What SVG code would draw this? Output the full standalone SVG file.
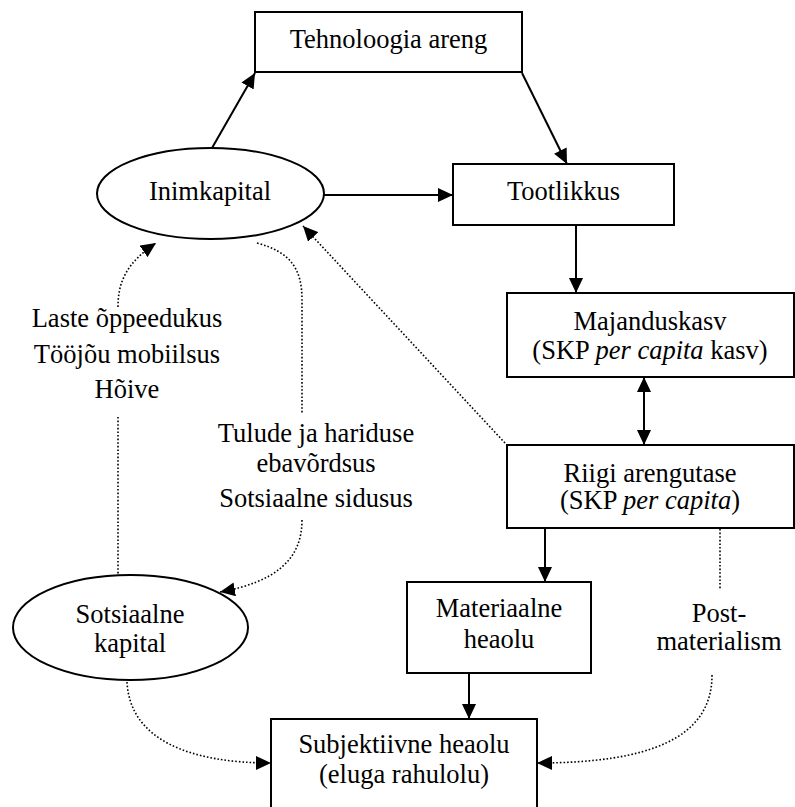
<svg xmlns="http://www.w3.org/2000/svg" width="795" height="807" viewBox="0 0 795 807">
<defs>
<style>
.box{fill:#fff;stroke:#000;stroke-width:2}
text{font-family:'Liberation Serif','DejaVu Serif',serif;font-size:26.5px;fill:#000;text-anchor:middle}
.it{font-style:italic}
.solid{fill:none;stroke:#000;stroke-width:2}
.dot{fill:none;stroke:#000;stroke-width:1.6;stroke-dasharray:1.6 2}
</style>
<marker id="ah" markerUnits="userSpaceOnUse" markerWidth="16" markerHeight="14" refX="15" refY="7" orient="auto-start-reverse" viewBox="0 0 16 14">
<path d="M0,0 L15,7 L0,14 z" fill="#000"/>
</marker>
<marker id="ahd" markerUnits="userSpaceOnUse" markerWidth="16" markerHeight="14" refX="15" refY="7" orient="auto" viewBox="0 0 16 14">
<path d="M0,0 L15,7 L0,14 z" fill="#000"/>
</marker>
</defs>
<rect width="795" height="807" fill="#fff"/>

<g id="connectors">
<path class="solid" d="M212,148 L255,73" marker-end="url(#ah)"/>
<path class="solid" d="M522,73 L567,164" marker-end="url(#ah)"/>
<path class="solid" d="M324,195 L453,195" marker-end="url(#ah)"/>
<path class="solid" d="M576,225 L576,293" marker-end="url(#ah)"/>
<path class="solid" d="M644,377 L644,445" marker-start="url(#ah)" marker-end="url(#ah)"/>
<path class="solid" d="M545,528 L545,582" marker-end="url(#ah)"/>
<path class="solid" d="M469,673 L469,719" marker-end="url(#ah)"/>
<path class="dot" d="M505,443 L303,226" marker-end="url(#ahd)"/>
<path class="dot" d="M118,307 C118,280 128,262 156,243" marker-end="url(#ahd)"/>
<path class="dot" d="M118,417 L118,575"/>
<path class="dot" d="M257,243 C290,252 302,268 302,300 L302,413"/>
<path class="dot" d="M302,520 C302,560 275,582 220,592" marker-end="url(#ahd)"/>
<path class="dot" d="M127,682 C130,740 190,763 271,763" marker-end="url(#ahd)"/>
<path class="dot" d="M720,529 L720,590"/>
<path class="dot" d="M712,675 C712,738 650,763 537,763" marker-end="url(#ahd)"/>
</g>

<g id="tehnoloogia">
<rect class="box" x="255" y="12" width="267" height="60"/>
<text x="388.5" y="48" font-family="Liberation Serif, DejaVu Serif, serif">Tehnoloogia areng</text>
</g>

<g id="inimkapital">
<ellipse class="box" cx="210.5" cy="193.5" rx="113.5" ry="45.5"/>
<text x="210" y="200">Inimkapital</text>
</g>

<g id="tootlikkus">
<rect class="box" x="453" y="164" width="221" height="61"/>
<text x="563.5" y="200">Tootlikkus</text>
</g>

<g id="majanduskasv">
<rect class="box" x="507" y="293" width="287" height="84"/>
<text x="650" y="330">Majanduskasv</text>
<text x="650" y="359">(SKP <tspan class="it">per capita</tspan> kasv)</text>
</g>

<g id="riigi">
<rect class="box" x="507" y="445" width="287" height="83"/>
<text x="650" y="482">Riigi arengutase</text>
<text x="650" y="509">(SKP <tspan class="it">per capita</tspan>)</text>
</g>

<g id="materiaalne">
<rect class="box" x="407" y="582" width="184" height="91"/>
<text x="499" y="617">Materiaalne</text>
<text x="499" y="648">heaolu</text>
</g>

<g id="subjektiivne">
<rect class="box" x="271" y="719" width="266" height="110"/>
<text x="404" y="753">Subjektiivne heaolu</text>
<text x="404" y="783">(eluga rahulolu)</text>
</g>

<g id="sotsiaalne">
<ellipse class="box" cx="130.5" cy="627.5" rx="117.5" ry="52.5"/>
<text x="130" y="623">Sotsiaalne</text>
<text x="130" y="652">kapital</text>
</g>

<g id="labels">
<text x="127" y="327">Laste õppeedukus</text>
<text x="127" y="363">Tööjõu mobiilsus</text>
<text x="127" y="398">Hõive</text>
<text x="316" y="442">Tulude ja hariduse</text>
<text x="316" y="472">ebavõrdsus</text>
<text x="316" y="507">Sotsiaalne sidusus</text>
<text x="719" y="622">Post-</text>
<text x="719" y="650">materialism</text>
</g>
</svg>
